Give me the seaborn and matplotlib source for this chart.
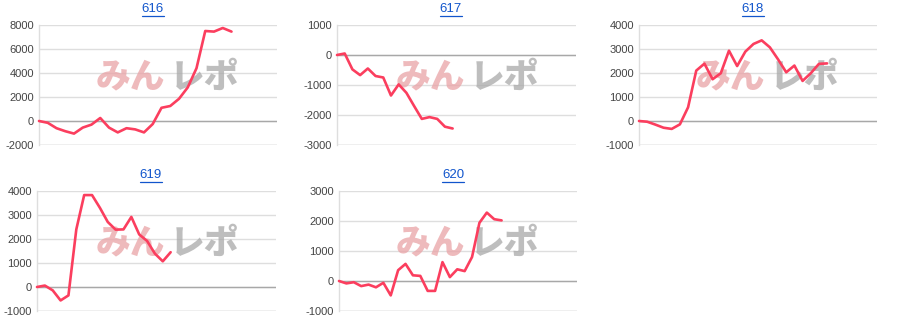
import matplotlib
matplotlib.use("Agg")
import matplotlib.pyplot as plt
import seaborn as sns
import pandas as pd
from matplotlib.lines import Line2D

# ---- data ----
titles = ["616", "617", "618", "619", "620"]
v616 = [0, -150, -600, -850, -1050, -550, -300, 250, -550, -950, -600, -700,
        -950, -250, 1100, 1250, 1850, 2800, 4400, 7500, 7450, 7750, 7450]
v617 = [0, 50, -480, -670, -450, -700, -750, -1350, -980, -1260, -1700,
        -2130, -2070, -2130, -2390, -2450]
v618 = [0, -30, -150, -280, -330, -140, 570, 2100, 2390, 1740, 1990, 2930,
        2290, 2890, 3210, 3360, 3070, 2570, 2030, 2310, 1670, 1990, 2380, 2400]
v619 = [0, 60, -140, -560, -350, 2400, 3830, 3830, 3300, 2710, 2390, 2400,
        2920, 2190, 1920, 1390, 1070, 1450]
v620 = [0, -80, -40, -170, -120, -210, -60, -480, 360, 570, 190, 170, -330,
        -330, 630, 130, 390, 330, 800, 1940, 2280, 2060, 2020]
series = [v616, v617, v618, v619, v620]
yticks = [
    [-2000, 0, 2000, 4000, 6000, 8000],
    [-3000, -2000, -1000, 0, 1000],
    [-1000, 0, 1000, 2000, 3000, 4000],
    [-1000, 0, 1000, 2000, 3000, 4000],
    [-1000, 0, 1000, 2000, 3000],
]
xmax = [27.2, 31.0, 29.1, 30.4, 32.2]

# ---- layout (pixels) ----
W, H = 900, 332
boxes = [(39, 25, 277, 145), (337, 25, 576, 145), (639, 25, 877, 145),
         (37, 191, 276, 311), (339, 191, 577, 311)]
origins = [(0, 0), (300, 0), (600, 0), (0, 166), (300, 166)]
title_x = [153, 451, 753, 151, 453]

sns.set_theme(style="white")
plt.rcParams['font.family'] = ['Liberation Sans', 'DejaVu Sans']

LINE = '#fb3e5e'
fig = plt.figure(figsize=(W / 100, H / 100), dpi=100)
fig.patch.set_facecolor('white')

title_texts = []
for i, (vals, box) in enumerate(zip(series, boxes)):
    x0, y0, x1, y1 = box
    ax = fig.add_axes([x0 / W, 1 - y1 / H, (x1 - x0) / W, (y1 - y0) / H])
    ax.patch.set_alpha(0)
    df = pd.DataFrame({"x": list(range(len(vals))), "y": vals})
    sns.lineplot(data=df, x="x", y="y", ax=ax, color=LINE, linewidth=1.9,
                 zorder=3, clip_on=False)
    ax.set_xlim(0, xmax[i])
    t = yticks[i]
    ax.set_ylim(t[0], t[-1])
    ax.set_yticks(t)
    ax.set_yticklabels([str(v) for v in t])
    ax.set_xticks([])
    ax.set_xlabel("")
    ax.set_ylabel("")
    ax.grid(axis='y', color='#dedede', linewidth=1.0, zorder=0)
    ax.set_axisbelow(True)
    ax.axhline(0, color='#a8a8a8', linewidth=1.0, zorder=1)
    ax.axhline(t[0], color='#cfcfcf', linewidth=1.0, zorder=1)
    for s in ['top', 'right', 'bottom']:
        ax.spines[s].set_visible(False)
    ax.spines['left'].set_color('#dedede')
    ax.spines['left'].set_linewidth(1.0)
    ax.tick_params(axis='y', length=0, pad=3.5, labelsize=8,
                   labelcolor='#444444')

    # watermark
    ox, oy = origins[i]
    ax.text((ox + 130) / W, 1 - (oy + 77) / H, "みん", transform=fig.transFigure,
            ha='center', va='center', fontsize=25, fontweight='black',
            color='#e9a3a6', alpha=0.75, zorder=2,
            family=['Noto Sans CJK JP', 'DejaVu Sans'])
    ax.text((ox + 204) / W, 1 - (oy + 77) / H, "レポ", transform=fig.transFigure,
            ha='center', va='center', fontsize=25, fontweight='black',
            color='#a9a9a9', alpha=0.75, zorder=2,
            family=['Noto Sans CJK JP', 'DejaVu Sans'])

    # title
    tt = fig.text(title_x[i] / W, 1 - (oy + 9.5) / H, titles[i], ha='center',
                  va='center', fontsize=9.5, color='#1155cc')
    title_texts.append((tt, oy))

fig.canvas.draw()
r = fig.canvas.get_renderer()
for tt, oy in title_texts:
    bb = tt.get_window_extent(r)
    yline = 1 - (oy + 15.5) / H
    fig.add_artist(Line2D([bb.x0 / W, bb.x1 / W], [yline, yline],
                          transform=fig.transFigure, color='#1155cc',
                          linewidth=0.9))

fig.savefig("out.png", dpi=100, facecolor='white')
